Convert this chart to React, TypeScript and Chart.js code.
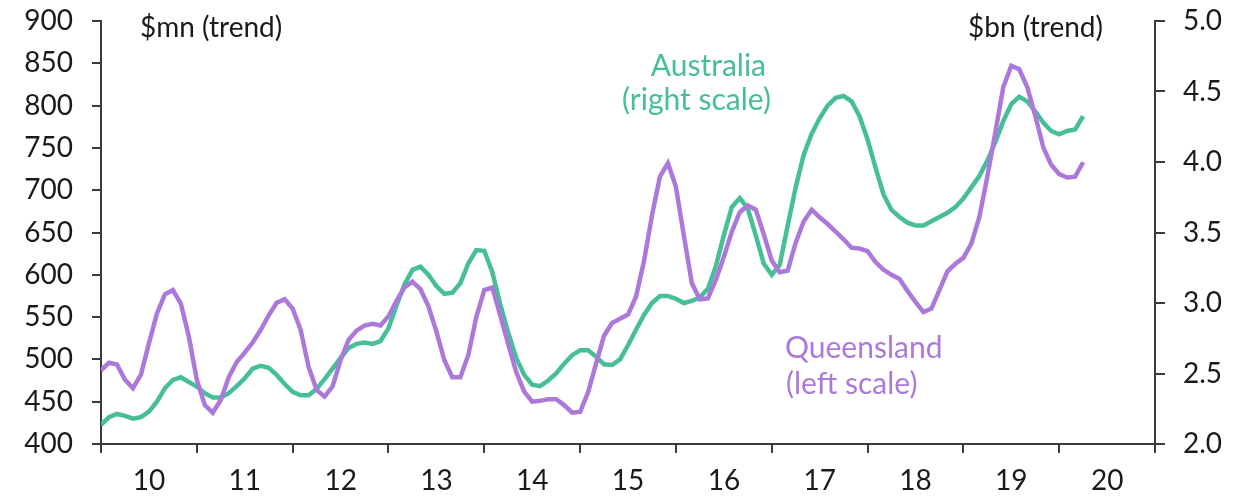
import React, { useEffect, useRef } from 'react';
import { Chart, registerables } from 'chart.js';

Chart.register(...registerables);

// Monthly data, Jan 2010 onwards
const queensland = [
  487, 496, 494, 476, 466, 482, 519, 554, 577, 582, 566, 527,
  476, 446, 437, 452, 479, 497, 508, 520, 535, 552, 567, 571,
  560, 535, 491, 464, 456, 468, 499, 523, 534, 540, 542, 540,
  551, 569, 585, 592, 583, 563, 533, 499, 479, 479, 505, 550,
  582, 585, 552, 518, 485, 462, 450, 451, 453, 453, 446, 437,
  438, 461, 495, 528, 543, 548, 553, 574, 616, 670, 716, 732,
  704, 646, 590, 571, 572, 594, 621, 651, 674, 682, 677, 648,
  617, 603, 605, 638, 663, 677, 668, 660, 651, 642, 632, 631,
  628, 615, 606, 600, 595, 581, 568, 556, 560, 582, 604, 613,
  620, 637, 668, 716, 768, 822, 847, 843, 822, 788, 751, 730,
  719, 715, 716, 733,
];

const australia = [
  2.135, 2.19, 2.213, 2.2, 2.18, 2.19, 2.23, 2.3, 2.395, 2.455, 2.473, 2.44,
  2.407, 2.36, 2.33, 2.33, 2.36, 2.41, 2.466, 2.535, 2.555, 2.54, 2.49, 2.425,
  2.37, 2.345, 2.345, 2.39, 2.46, 2.535, 2.61, 2.68, 2.71, 2.72, 2.71, 2.73,
  2.82, 2.98, 3.13, 3.235, 3.258, 3.2, 3.12, 3.065, 3.073, 3.14, 3.28, 3.375,
  3.37, 3.22, 2.99, 2.79, 2.61, 2.49, 2.42, 2.41, 2.45, 2.5, 2.57, 2.63,
  2.665, 2.665, 2.62, 2.565, 2.56, 2.6, 2.7, 2.81, 2.915, 3.0, 3.05, 3.05,
  3.03, 3.0, 3.015, 3.04, 3.1, 3.26, 3.48, 3.68, 3.745, 3.67, 3.48, 3.28,
  3.2, 3.27, 3.55, 3.82, 4.05, 4.2, 4.31, 4.4, 4.455, 4.468, 4.43, 4.325,
  4.16, 3.96, 3.77, 3.66, 3.61, 3.57, 3.55, 3.55, 3.58, 3.61, 3.64, 3.68,
  3.74, 3.82, 3.9, 4.01, 4.14, 4.29, 4.41, 4.463, 4.43, 4.36, 4.28, 4.22,
  4.196, 4.22, 4.23, 4.326,
];

const yearLabels = ['10', '11', '12', '13', '14', '15', '16', '17', '18', '19', '20'];
const monthsPerYear = 12;
const leftRange = [400, 900];
const leftStep = 50;
const rightRange = [2, 5];
const rightStep = 0.5;

const PURPLE = '#AC79DA';
const GREEN = '#46BE97';
const INK = '#1a1a1a';
const AXIS = '#3a3a3a';
const FONT = 'Lato';
const TICK_FONT = { family: FONT, size: 28 };

const textPlugin = {
  id: 'chartTexts',
  afterDraw(chart: any) {
    const ctx = chart.ctx;
    const items = [
      { t: '$mn (trend)', x: 140, y: 37, a: 'left', c: INK, s: 28 },
      { t: '$bn (trend)', x: 1103, y: 37, a: 'right', c: INK, s: 28 },
      { t: 'Australia', x: 766, y: 76, a: 'right', c: GREEN, s: 30 },
      { t: '(right scale)', x: 771, y: 110, a: 'right', c: GREEN, s: 30 },
      { t: 'Queensland', x: 785, y: 358, a: 'left', c: PURPLE, s: 30 },
      { t: '(left scale)', x: 786, y: 394, a: 'left', c: PURPLE, s: 30 },
    ];
    ctx.save();
    ctx.textBaseline = 'alphabetic';
    for (const it of items) {
      ctx.font = `${it.s}px ${FONT}`;
      ctx.fillStyle = it.c;
      ctx.textAlign = it.a;
      ctx.fillText(it.t, it.x, it.y);
    }
    ctx.restore();
  },
};

export default function App() {
  const ref = useRef<HTMLCanvasElement>(null);

  useEffect(() => {
    const canvas = ref.current;
    if (!canvas) return;
    const chart = new Chart(canvas, {
      type: 'line',
      data: {
        datasets: [
          {
            label: 'Queensland',
            data: queensland.map((v, i) => ({ x: i, y: v })),
            yAxisID: 'y',
            borderColor: PURPLE,
            borderWidth: 4.5,
            pointRadius: 0,
            tension: 0,
            fill: false,
          },
          {
            label: 'Australia',
            data: australia.map((v, i) => ({ x: i, y: v })),
            yAxisID: 'y1',
            borderColor: GREEN,
            borderWidth: 4.5,
            pointRadius: 0,
            tension: 0,
            fill: false,
          },
        ],
      },
      options: {
        responsive: false,
        animation: false,
        layout: { padding: { top: 21, left: 0, right: 0, bottom: 0 } },
        plugins: { legend: { display: false }, tooltip: { enabled: false } },
        scales: {
          x: {
            type: 'linear',
            min: 0,
            max: yearLabels.length * monthsPerYear,
            afterBuildTicks: (s: any) => {
              s.ticks = [...yearLabels, ''].map((_, k) => ({ value: k * monthsPerYear }));
            },
            afterFit: (s: any) => {
              s.height = 54;
              s.paddingLeft = 0;
              s.paddingRight = 0;
            },
            ticks: {
              callback: (v: any) => yearLabels[Math.round(Number(v) / monthsPerYear)] ?? '',
              labelOffset: 48,
              padding: 11,
              maxRotation: 0,
              autoSkip: false,
              font: TICK_FONT,
              color: INK,
            },
            grid: { drawOnChartArea: false, drawTicks: true, tickLength: 9, color: AXIS, lineWidth: 2 },
            border: { display: true, color: AXIS, width: 2 },
          },
          y: {
            position: 'left',
            min: leftRange[0],
            max: leftRange[1],
            afterFit: (s: any) => {
              s.width = 101;
              s.paddingTop = 0;
              s.paddingBottom = 0;
            },
            ticks: { stepSize: leftStep, padding: 19, font: TICK_FONT, color: INK },
            grid: { drawOnChartArea: false, drawTicks: true, tickLength: 9, color: AXIS, lineWidth: 2 },
            border: { display: true, color: AXIS, width: 2 },
          },
          y1: {
            position: 'right',
            min: rightRange[0],
            max: rightRange[1],
            afterFit: (s: any) => {
              s.width = 97;
              s.paddingTop = 0;
              s.paddingBottom = 0;
            },
            ticks: {
              stepSize: rightStep,
              padding: 18,
              font: TICK_FONT,
              color: INK,
              callback: (v: any) => Number(v).toFixed(1),
            },
            grid: { drawOnChartArea: false, drawTicks: true, tickLength: 10, color: AXIS, lineWidth: 2 },
            border: { display: true, color: AXIS, width: 2 },
          },
        },
      },
      plugins: [textPlugin],
    } as any);
    return () => chart.destroy();
  }, []);

  return (
    <div style={{ position: 'fixed', left: 0, top: 0, width: 1252, height: 498, background: '#fff' }}>
      <canvas ref={ref} width={1252} height={498} style={{ display: 'block' }} />
    </div>
  );
}
